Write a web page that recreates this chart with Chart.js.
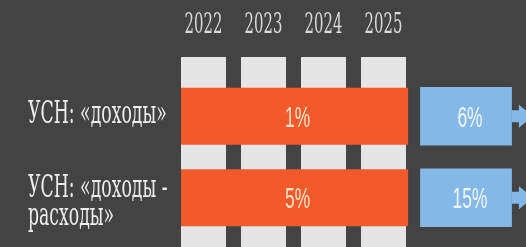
<!DOCTYPE html>
<html>
<head>
<meta charset="utf-8">
<style>
  html, body { margin: 0; padding: 0; background: #434343; overflow: hidden; }
  #wrap { width: 526px; height: 247px; }
</style>
</head>
<body>
<div id="wrap"><canvas id="rates-chart"></canvas></div>
<script src="https://cdn.jsdelivr.net/npm/chart.js@4.4.1/dist/chart.umd.min.js"></script>
<script>
// reduced rate applies 2022-2025, standard rate after that
var years = ["2022", "2023", "2024", "2025"];
var regimes = [["УСН: «доходы»"], ["УСН: «доходы -", "расходы»"]];
var reducedRates = [1, 5];
var standardRates = [6, 15];

var ORANGE = "#f25a29";
var BLUE = "#84b8e6";
var COLUMN = "#e5e5e5";
var SERIF = "'DejaVu Serif', serif";
var SANS = "'Liberation Sans', Arial, sans-serif";

var lastYear = years.length - 1;
var X_RANGE = [-0.5, 5.375];
var Y_RANGE = [-0.506, 1.604];

function squeezedText(ctx, text, x, y, squeeze, align) {
  ctx.save();
  ctx.translate(x, y);
  ctx.scale(squeeze, 1);
  ctx.textAlign = align;
  ctx.fillText(text, 0, 0);
  ctx.restore();
}

var labelsPlugin = {
  id: "labels",
  afterDatasetsDraw: function (chart) {
    var ctx = chart.ctx;
    var xs = chart.scales.x;
    var ys = chart.scales.y;
    ctx.save();
    ctx.textBaseline = "alphabetic";

    // years over the columns
    ctx.fillStyle = "#dcdcdc";
    ctx.font = "28px " + SERIF;
    years.forEach(function (y, i) {
      squeezedText(ctx, y, xs.getPixelForValue(i), 33, 0.53, "center");
    });

    // regime names
    ctx.fillStyle = "#ececec";
    ctx.font = "32px " + SERIF;
    regimes.forEach(function (lines, i) {
      var cy = ys.getPixelForValue(i);
      var first = cy + 7 - (lines.length - 1) * 7.5;
      lines.forEach(function (line, j) {
        squeezedText(ctx, line, 28, first + j * 28, 0.54, "left");
      });
    });

    // rate values and arrows
    ctx.font = "29px " + SANS;
    var reduced = chart.getDatasetMeta(0).data;
    var standard = chart.getDatasetMeta(1).data;
    reduced.forEach(function (bar, i) {
      var p = bar.getProps(["x", "y", "base"], true);
      ctx.fillStyle = "#fde3cc";
      squeezedText(ctx, reducedRates[i] + "%", (p.x + p.base) / 2 + 3, p.y + 10.5, 0.6, "center");
    });
    standard.forEach(function (bar, i) {
      var p = bar.getProps(["x", "y", "base"], true);
      ctx.fillStyle = BLUE;
      ctx.fillRect(p.x, p.y - 6, 9, 12);
      ctx.beginPath();
      ctx.moveTo(p.x + 7, p.y - 11.5);
      ctx.lineTo(p.x + 21, p.y);
      ctx.lineTo(p.x + 7, p.y + 11.5);
      ctx.closePath();
      ctx.fill();
      ctx.fillStyle = "#f1f6fc";
      squeezedText(ctx, standardRates[i] + "%", (p.x + p.base) / 2 + 4, p.y + 10.5, 0.6, "center");
    });
    ctx.restore();
  }
};

function fixedTicks(values, range) {
  return function (scale) {
    scale.ticks = values.map(function (v, i) { return { value: i }; });
    scale.min = range[0];
    scale.max = range[1];
  };
}

var config = {
  type: "bar",
  data: {
    datasets: [
      {
        label: "reduced",
        backgroundColor: ORANGE,
        grouped: false,
        categoryPercentage: 1,
        barPercentage: 0.7,
        data: reducedRates.map(function (r, i) {
          return { x: [-0.375, lastYear + 0.41], y: i };
        }),
      },
      {
        label: "standard",
        backgroundColor: BLUE,
        grouped: false,
        categoryPercentage: 1,
        barPercentage: 0.72,
        data: standardRates.map(function (r, i) {
          return { x: [lastYear + 0.61, lastYear + 2.14], y: i };
        }),
      },
    ],
  },
  options: {
    indexAxis: "y",
    responsive: true,
    maintainAspectRatio: false,
    animation: false,
    layout: { padding: 0 },
    plugins: { legend: { display: false }, tooltip: { enabled: false } },
    scales: {
      x: {
        type: "linear",
        position: "top",
        min: X_RANGE[0],
        max: X_RANGE[1],
        bounds: "data",
        grace: 0,
        offset: false,
        afterBuildTicks: fixedTicks(years, X_RANGE),
        afterFit: function (scale) { scale.height = 75; },
        ticks: { display: false },
        border: { display: false },
        grid: { color: COLUMN, lineWidth: 45, tickLength: 18, drawOnChartArea: true, offset: false },
      },
      y: {
        type: "linear",
        reverse: true,
        min: Y_RANGE[0],
        max: Y_RANGE[1],
        bounds: "data",
        grace: 0,
        offset: false,
        afterBuildTicks: fixedTicks(regimes, Y_RANGE),
        afterFit: function (scale) { scale.width = 173.5; },
        ticks: { display: false },
        border: { display: false },
        grid: { display: false, offset: false },
      },
    },
  },
  plugins: [labelsPlugin],
};

var ctx = document.getElementById("rates-chart").getContext("2d");
window.ratesChart = new Chart(ctx, config);
</script>
</body>
</html>
